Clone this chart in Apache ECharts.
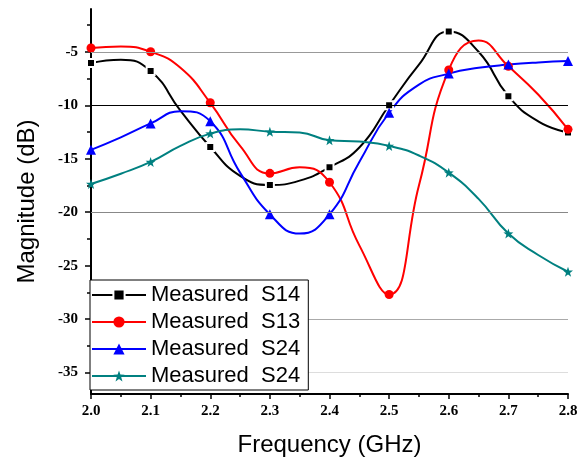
<!DOCTYPE html>
<html>
<head>
<meta charset="utf-8">
<script src="https://cdn.jsdelivr.net/npm/echarts@6/dist/echarts.min.js"></script>
<style>
  html, body { margin: 0; padding: 0; background: #fff; }
  #main { width: 587px; height: 462px; }
</style>
</head>
<body>
<div id="main"></div>
<script>
// frequency (GHz), read every 0.05; markers sit on every 0.1
var freq = [2.0, 2.05, 2.1, 2.15, 2.2, 2.25, 2.3, 2.35, 2.4, 2.45, 2.5, 2.55, 2.6, 2.65, 2.7, 2.75, 2.8];
// magnitudes (dB)
var s14 = [-6.05, -5.74, -6.8, -10.5, -13.9, -16.6, -17.45, -17.05, -15.8, -13.95, -10.0, -6.2, -3.1, -5.0, -9.15, -11.5, -12.55];
var s13 = [-4.65, -4.5, -5.0, -6.5, -9.77, -13.8, -16.37, -15.8, -17.2, -23.1, -27.7, -17.5, -6.7, -3.95, -6.36, -9.0, -12.25];
var s24a = [-14.17, -13.0, -11.7, -10.55, -11.5, -16.3, -20.2, -22.0, -20.2, -15.3, -10.7, -8.07, -7.04, -6.5, -6.2, -6.0, -5.87];
var s24b = [-17.36, -16.4, -15.3, -13.8, -12.65, -12.25, -12.47, -12.55, -13.27, -13.4, -13.8, -14.7, -16.3, -18.75, -22.0, -24.0, -25.57];
var names = ['Measured  S14', 'Measured  S13', 'Measured  S24', 'Measured  S24 '];

var yLabels = [-35, -30, -25, -20, -15, -10, -5];
var yMinor = [-32.5, -27.5, -22.5, -17.5, -12.5, -7.5, -2.5];
var refLines = [-5, -10, -20, -30, -35];

var star = 'path://M0,-10L2.35,-3.24L9.51,-3.09L3.8,1.24L5.88,8.09L0,4L-5.88,8.09L-3.8,1.24L-9.51,-3.09L-2.35,-3.24Z';

// markers only on the 0.1 GHz points
function pts(arr) {
    return freq.map(function (f, i) {
        var item = { value: [f, arr[i]] };
        if (i % 2 === 1) item.symbol = 'none';
        return item;
    });
}

var myChart = echarts.init(document.getElementById('main'));

var lineColors = ['#999999', '#000000', '#888888', '#aaaaaa', '#dddddd'];

myChart.setOption({
    animation: false,
    grid: { left: 91, right: 19, top: 9, bottom: 65 },
    legend: {
        data: names,
        orient: 'vertical',
        left: 90,
        top: 280,
        z: 100,
        padding: [4, 2, 3, 1],
        itemWidth: 54,
        itemHeight: 14,
        itemGap: 5,
        borderColor: '#000',
        borderWidth: 1,
        backgroundColor: '#fff',
        textStyle: { fontFamily: 'Liberation Sans', fontSize: 22, color: '#000', lineHeight: 22 }
    },
    xAxis: {
        type: 'value',
        min: 2.0,
        max: 2.8,
        interval: 0.1,
        name: 'Frequency (GHz)',
        nameLocation: 'middle',
        nameGap: 39,
        nameTextStyle: { fontFamily: 'Liberation Sans', fontSize: 24, color: '#000' },
        axisLine: { lineStyle: { color: '#000', width: 2 } },
        axisTick: { inside: false, length: 5, lineStyle: { color: '#000', width: 1.5 } },
        minorTick: { show: true, splitNumber: 2, length: 3, lineStyle: { color: '#000', width: 1.5 } },
        axisLabel: {
            margin: 10,
            fontFamily: 'Liberation Serif', fontWeight: 'bold', fontSize: 15, color: '#000',
            formatter: function (v) { return v.toFixed(1); }
        },
        splitLine: { show: false }
    },
    yAxis: [{
        type: 'value',
        min: -37,
        max: -1,
        name: 'Magnitude (dB)',
        nameLocation: 'middle',
        nameGap: 52,
        nameTextStyle: { fontFamily: 'Liberation Sans', fontSize: 24, color: '#000' },
        axisLine: { show: true, lineStyle: { color: '#000', width: 2 } },
        axisTick: { show: true, length: 6, customValues: yLabels, lineStyle: { color: '#000', width: 1.5 } },
        axisLabel: {
            customValues: yLabels,
            margin: 13,
            fontFamily: 'Liberation Serif', fontWeight: 'bold', fontSize: 15, color: '#000'
        },
        splitLine: { show: false }
    }, {
        type: 'value',
        min: -37,
        max: -1,
        position: 'left',
        axisLine: { show: false },
        axisTick: { show: true, length: 4, customValues: yMinor, lineStyle: { color: '#000', width: 1.5 } },
        axisLabel: { show: false },
        splitLine: { show: false }
    }],
    series: [{
        name: 'ref',
        type: 'line',
        data: [],
        z: 1,
        markLine: {
            silent: true,
            symbol: 'none',
            label: { show: false },
            data: refLines.map(function (v, i) {
                return { yAxis: v, lineStyle: { color: lineColors[i], width: 1.2, type: 'solid' } };
            })
        }
    }, {
        name: names[0],
        type: 'line',
        smooth: 0.5,
        data: pts(s14),
        symbol: 'rect',
        symbolSize: 8,
        z: 3,
        lineStyle: { color: '#000', width: 2 },
        itemStyle: { color: '#000', borderColor: '#fff', borderWidth: 2 }
    }, {
        name: names[1],
        type: 'line',
        smooth: 0.5,
        data: pts(s13),
        symbol: 'circle',
        symbolSize: 9,
        z: 3,
        lineStyle: { color: '#ff0000', width: 2 },
        itemStyle: { color: '#ff0000' }
    }, {
        name: names[2],
        type: 'line',
        smooth: 0.5,
        data: pts(s24a),
        symbol: 'triangle',
        symbolSize: 10,
        z: 3,
        lineStyle: { color: '#0000ff', width: 2 },
        itemStyle: { color: '#0000ff' }
    }, {
        name: names[3],
        type: 'line',
        smooth: 0.5,
        data: pts(s24b),
        symbol: star,
        symbolSize: 10,
        z: 3,
        lineStyle: { color: '#008080', width: 2 },
        itemStyle: { color: '#008080' }
    }]
});
</script>
</body>
</html>
